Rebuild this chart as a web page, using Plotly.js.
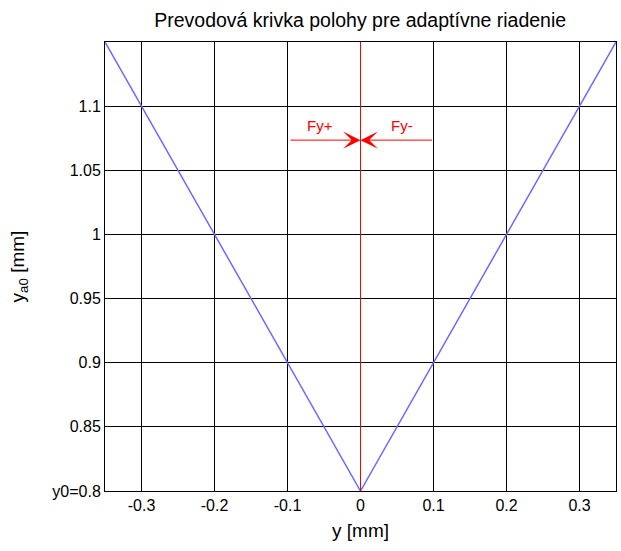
<!DOCTYPE html>
<html><head><meta charset="utf-8">
<script src="https://cdn.plot.ly/plotly-3.0.1.min.js"></script>
<style>body{margin:0;background:#fff}#c{width:621px;height:551px}</style>
</head><body><div id="c"></div>
<script>
const xVals = [-0.35, 0, 0.35];
const yVals = [1.15, 0.8, 1.15];
const zeroLineX = [0, 0];
const zeroLineY = [0.8, 1.15];
const xTicks = [-0.3, -0.2, -0.1, 0, 0.1, 0.2, 0.3];
const xTickText = ['-0.3', '-0.2', '-0.1', '0', '0.1', '0.2', '0.3'];
const yTicks = [0.8, 0.85, 0.9, 0.95, 1, 1.05, 1.1];
const yTickText = ['y0=0.8', '0.85', '0.9', '0.95', '1', '1.05', '1.1'];
const arrowY = 1.0735;
const arrowStartX = [-0.098, 0.1];
const labelTexts = ['Fy+', 'Fy-'];
const labelX = [-0.055, 0.057];
const labelY = 1.085;

const fam = 'Liberation Sans, Arial, sans-serif';
const font = {family: fam, size: 16, color: '#000'};
const traces = [
  {x: xVals, y: yVals, mode: 'lines', line: {color: '#6a6aff', width: 1.5}, hoverinfo: 'skip'},
  {x: zeroLineX, y: zeroLineY, mode: 'lines', line: {color: '#ff0000', width: 1}, hoverinfo: 'skip'}
];
const shapes = xTicks.filter(v => v !== 0).map(v => ({type: 'line', xref: 'x', yref: 'paper', x0: v, x1: v, y0: 0, y1: 1,
  line: {color: '#000', width: 1}, layer: 'below'}));
const annotations = [];
for (let i = 0; i < 2; i++) {
  annotations.push({x: 0, y: arrowY, ax: arrowStartX[i], ay: arrowY, xref: 'x', yref: 'y', axref: 'x', ayref: 'y',
    text: '', showarrow: true, arrowhead: 3, arrowsize: 2.9, arrowwidth: 1, arrowcolor: '#ff0000'});
  annotations.push({x: labelX[i], y: labelY, xref: 'x', yref: 'y', text: labelTexts[i], showarrow: false,
    font: {family: fam, size: 15, color: '#ff0000'}});
}
const layout = {
  width: 621, height: 551,
  margin: {l: 105, r: 5, t: 42, b: 60},
  paper_bgcolor: '#fff', plot_bgcolor: '#fff',
  showlegend: false,
  font: font,
  title: {text: 'Prevodová krivka polohy pre adaptívne riadenie', font: {family: fam, size: 19.5, color: '#000'}, x: 0.58, xanchor: 'center', y: 0.964, yanchor: 'middle'},
  xaxis: {range: [-0.35, 0.35], tickvals: xTicks, ticktext: xTickText, showgrid: false,
    zeroline: false, showline: true, linecolor: '#000', linewidth: 1, mirror: true, ticks: '', tickfont: font,
    title: {text: 'y [mm]', font: {family: fam, size: 19, color: '#000'}, standoff: 10}},
  yaxis: {range: [0.8, 1.15], tickvals: yTicks, ticktext: yTickText, showgrid: true, gridcolor: '#000', gridwidth: 1,
    zeroline: false, showline: true, linecolor: '#000', linewidth: 1, mirror: true, ticks: '', tickfont: font,
    title: {text: 'y<sub>a0</sub> [mm]', font: {family: fam, size: 19, color: '#000'}, standoff: 22}},
  shapes: shapes,
  annotations: annotations
};
Plotly.newPlot('c', traces, layout, {staticPlot: true, displayModeBar: false});
</script></body></html>
